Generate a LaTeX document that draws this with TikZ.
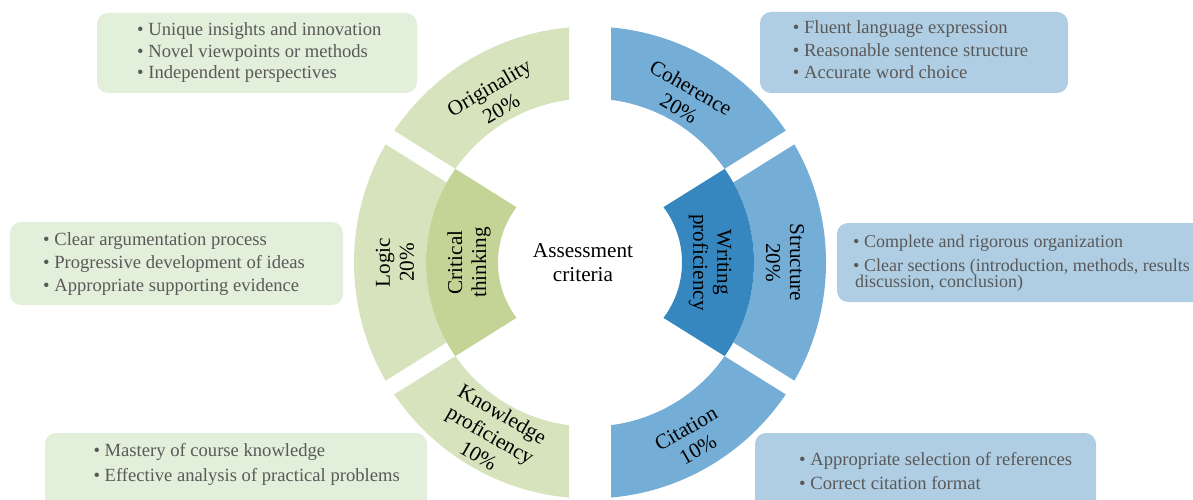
\documentclass[tikz,border=0pt]{standalone}
\usepackage{fontspec}
\setmainfont{Liberation Serif}
\definecolor{greenseg}{RGB}{214,227,188}
\definecolor{greeninner}{RGB}{196,212,150}
\definecolor{blueseg}{RGB}{116,173,213}
\definecolor{blueinner}{RGB}{54,135,192}
\definecolor{greenbox}{RGB}{226,239,218}
\definecolor{bluebox}{RGB}{175,206,227}
\definecolor{bultext}{RGB}{89,89,89}
\begin{document}
\begin{tikzpicture}[x=1pt,y=1pt,
  bul/.style={anchor=base west, inner sep=0pt, text=bultext,
    font=\fontsize{18.6}{21}\selectfont},
  bulsmall/.style={bul, font=\fontsize{18}{21}\selectfont},
  seglabel/.style={align=center, inner sep=0pt,
    font=\fontsize{21.2}{24}\selectfont},
  infobox/.style={rounded corners=11pt}]
\clip (0,0) rectangle (1193,499);

% ---- info boxes ----
\fill[greenbox, infobox] (97,406) rectangle (417,486);
\fill[bluebox, infobox] (760,406) rectangle (1068,487);
\fill[greenbox, infobox] (10,194) rectangle (343,277);
\fill[bluebox, infobox] (837,197) rectangle (1215,276);
\fill[greenbox, infobox] (45,-20) rectangle (427,66);
\fill[bluebox, infobox] (755,-20) rectangle (1096,66);

% ---- ring ----
\begin{scope}[shift={(590,236.5)}]
  % outer ring, left and right halves
  \begin{scope}
    \clip (-300,-300) rectangle (-21,300);
    \fill[greenseg, even odd rule] (0,0) circle (236) (0,0) circle (164);
  \end{scope}
  \begin{scope}
    \clip (21,-300) rectangle (300,300);
    \fill[blueseg, even odd rule] (0,0) circle (236) (0,0) circle (164);
  \end{scope}
  % gaps between the outer segments
  \foreach \a in {148,212,32,-32}
    \fill[white, rotate=\a] (140,-8) rectangle (250,8);
  % inner segments
  \begin{scope}
    \clip (15.1,0) -- ++(148:400) -- ++(0,-424) -- cycle;
    \fill[greeninner, even odd rule] (0,0) circle (164) (0,0) circle (92);
  \end{scope}
  \begin{scope}
    \clip (-15.1,0) -- ++(32:400) -- ++(0,-424) -- cycle;
    \fill[blueinner, even odd rule] (0,0) circle (164) (0,0) circle (92);
  \end{scope}

  % segment labels
  \node[seglabel, rotate=30]  (orig)   at (120:190) {Originality\\20\%};
  \node[seglabel, rotate=90]  (logic)  at (180:195) {Logic\\20\%};
  \node[seglabel, rotate=-30] (know)   at (240:199) {Knowledge\\proficiency\\10\%};
  \node[seglabel, rotate=-30] (coh)    at (60:190)  {Coherence\\20\%};
  \node[seglabel, rotate=-90] (struct) at (0:195)   {Structure\\20\%};
  \node[seglabel, rotate=30]  (cit)    at (300:204) {Citation\\10\%};
  \node[seglabel, rotate=90]  (crit)   at (180:121) {Critical\\thinking};
  \node[seglabel, rotate=-90] (writ)   at (0:120)   {Writing\\proficiency};
  \node[seglabel] (centre) at (-7,0) {Assessment\\criteria};
\end{scope}

% ---- box texts ----
\node[bul] (o1) at (137,463.3) {\textbullet\ Unique insights and innovation};
\node[bul] (o2) at (137,441.7) {\textbullet\ Novel viewpoints or methods};
\node[bul] (o3) at (137,420.7) {\textbullet\ Independent perspectives};

\node[bul] (c1) at (792.7,465.5) {\textbullet\ Fluent language expression};
\node[bul] (c2) at (792.7,442.3) {\textbullet\ Reasonable sentence structure};
\node[bul] (c3) at (792.7,420.7) {\textbullet\ Accurate word choice};

\node[bul] (l1) at (43,254) {\textbullet\ Clear argumentation process};
\node[bul] (l2) at (43,230.7) {\textbullet\ Progressive development of ideas};
\node[bul] (l3) at (43,207.3) {\textbullet\ Appropriate supporting evidence};

\node[bulsmall] (s1) at (853,252) {\textbullet\ Complete and rigorous organization};
\node[bulsmall] (s2) at (853,228) {\textbullet\ Clear sections (introduction, methods, results};
\node[bulsmall] (s3) at (855,212) {discussion, conclusion)};

\node[bul] (k1) at (93.3,42.3) {\textbullet\ Mastery of course knowledge};
\node[bul] (k2) at (93.3,17.3) {\textbullet\ Effective analysis of practical problems};

\node[bul] (t1) at (799,34) {\textbullet\ Appropriate selection of references};
\node[bul] (t2) at (799,10) {\textbullet\ Correct citation format};
\end{tikzpicture}
\end{document}
